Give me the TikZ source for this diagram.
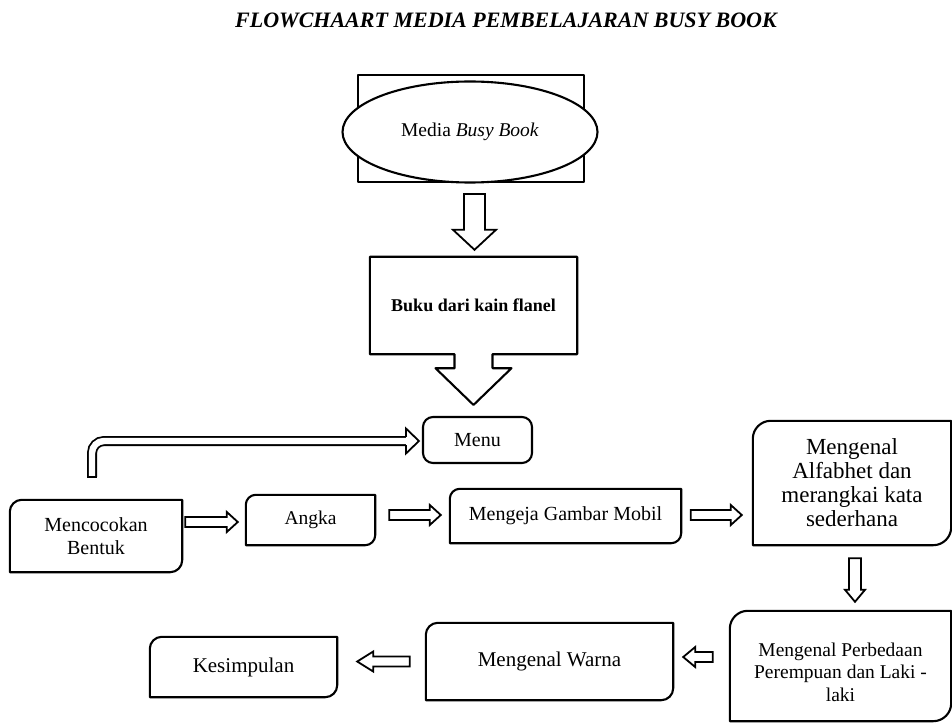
\documentclass[tikz,border=0pt]{standalone}
\usepackage{fontspec}
\setmainfont{Liberation Serif}
\usetikzlibrary{calc,shapes.geometric}

\newcommand{\sz}[2]{\fontsize{#1pt}{#2pt}\selectfont}
% box with rounded top-left and bottom-right corners
\newcommand{\diagframe}[2][12pt]{%
  \draw[frame] ([xshift=#1]#2.north west) -- (#2.north east) -- ([yshift=#1]#2.south east)
    arc[start angle=0,end angle=-90,radius=#1] -- (#2.south west) -- ([yshift=-#1]#2.north west)
    arc[start angle=180,end angle=90,radius=#1] -- cycle;}
% hollow block arrow: start, tip, half shaft, half head, head length
\newcommand{\blockarrow}[5]{%
  \coordinate (ba-s) at (#1);
  \coordinate (ba-t) at (#2);
  \coordinate (ba-b) at ($(ba-t)!#5!(ba-s)$);
  \draw[arrowline] ($(ba-s)!#3!90:(ba-t)$) -- ($(ba-b)!#3!90:(ba-t)$) -- ($(ba-b)!#4!90:(ba-t)$)
    -- (ba-t) -- ($(ba-b)!#4!-90:(ba-t)$) -- ($(ba-b)!#3!-90:(ba-t)$) -- ($(ba-s)!#3!-90:(ba-t)$) -- cycle;}

\begin{document}
\begin{tikzpicture}[x=1pt,y=1pt,
    frame/.style={line width=2.1pt,line join=round},
    arrowline/.style={line width=1.8pt,line join=miter},
    hollowline/.style={double,double distance=6.4pt,line width=1.8pt},
    boxtext/.style={align=center,inner sep=0pt}]
  \useasboundingbox (0,0) rectangle (952,724);

  \node[font=\sz{22}{26}\bfseries\itshape] (title) at (506,704) {FLOWCHAART MEDIA PEMBELAJARAN BUSY BOOK};

  % top: media and flannel book
  \node[draw,frame,minimum width=226pt,minimum height=107pt] (mediarect) at (471,595.5) {};
  \node[ellipse,draw,frame,fill=white,minimum width=255pt,minimum height=101pt,font=\sz{19.5}{23}] (media) at (470,592) {Media \textit{Busy Book}};
  \node[boxtext,minimum width=207pt,minimum height=97pt,font=\sz{18}{22}\bfseries] (buku) at (473.5,418.5) {Buku dari kain flanel};
  \node[draw,frame,rounded corners=10pt,minimum width=109pt,minimum height=46pt,font=\sz{20}{24}] (menu) at (477.5,284) {Menu};

  % menu items
  \node[boxtext,minimum width=172pt,minimum height=72pt,font=\sz{20}{23}] (bentuk) at (96,188) {Mencocokan\\Bentuk};
  \node[boxtext,minimum width=129pt,minimum height=50pt,font=\sz{19.5}{23}] (angka) at (310.5,204) {Angka};
  \node[boxtext,minimum width=231pt,minimum height=54pt,font=\sz{20}{23}] (mengeja) at (565.5,208) {Mengeja Gambar Mobil};
  \node[boxtext,minimum width=198pt,minimum height=124pt,font=\sz{23}{24}] (alfabhet) at (852,241) {Mengenal\\Alfabhet dan\\merangkai kata\\sederhana};
  \node[boxtext,minimum width=221pt,minimum height=110pt,
    label={[align=center,font=\sz{19.5}{22.5},yshift=-6pt]center:{Mengenal Perbedaan\\Perempuan dan Laki -\\laki}}] (perbedaan) at (840.5,58) {};
  \node[boxtext,minimum width=247pt,minimum height=77pt,font=\sz{21}{24}] (warna) at (549.5,62.5) {Mengenal Warna};
  \node[boxtext,minimum width=187pt,minimum height=60pt,font=\sz{21}{24}] (kesimpulan) at (243.5,57) {Kesimpulan};

  \diagframe{bentuk}
  \diagframe[10pt]{angka}
  \diagframe[10pt]{mengeja}
  \diagframe[18pt]{alfabhet}
  \diagframe[18pt]{perbedaan}
  \diagframe{warna}
  \diagframe{kesimpulan}

  % flannel book box with its arrow down to the menu
  \draw[frame] (buku.north west) -- (buku.north east) -- (buku.south east) -- ([xshift=19pt]buku.south)
    -- ++(0,-14) -- ++(19,0) -- ($(buku.south |- menu.north)+(0,11)$) -- ($(buku.south)+(-38,-14)$)
    -- ++(19,0) -- ([xshift=-19pt]buku.south) -- (buku.south west) -- cycle;

  % arrows
  \blockarrow{$(mediarect.south)+(3.5,-11)$}{$(buku.north)+(1,7)$}{10.5pt}{21.5pt}{20pt}
  \blockarrow{$(angka.west -| bentuk.east)+(3,-2)$}{$(angka.west)+(-8,-2)$}{5pt}{10pt}{11pt}
  \blockarrow{$(mengeja.west -| angka.east)+(14,1)$}{$(mengeja.west)+(-9,1)$}{5pt}{10pt}{11pt}
  \blockarrow{$(mengeja.east)+(9.5,1)$}{$(mengeja.east -| alfabhet.west)+(-11,1)$}{5pt}{10pt}{11pt}
  \blockarrow{$(alfabhet.south)+(3,-13)$}{$(alfabhet.south |- perbedaan.north)+(3,9)$}{6pt}{10pt}{12pt}
  \blockarrow{$(perbedaan.west |- warna.east)+(-17,4.5)$}{$(warna.east)+(10,4.5)$}{5pt}{10pt}{12pt}
  \blockarrow{$(warna.west)+(-16,0)$}{$(warna.west -| kesimpulan.east)+(20,0)$}{5pt}{10pt}{16pt}

  % bent arrow from the first item back to the menu
  \draw[hollowline,rounded corners=12pt] ($(bentuk.north)+(-4,23)$) |- ($(menu.west)+(-16,-1)$);
  \draw[arrowline] ($(bentuk.north)+(-9,23)$) -- ($(bentuk.north)+(1,23)$);
  \draw[arrowline] ($(menu.west)+(-16,3.1)$) -- ($(menu.west)+(-16,11.5)$) -- ($(menu.west)+(-3,-1)$)
    -- ($(menu.west)+(-16,-13.5)$) -- ($(menu.west)+(-16,-5.1)$);
\end{tikzpicture}
\end{document}
